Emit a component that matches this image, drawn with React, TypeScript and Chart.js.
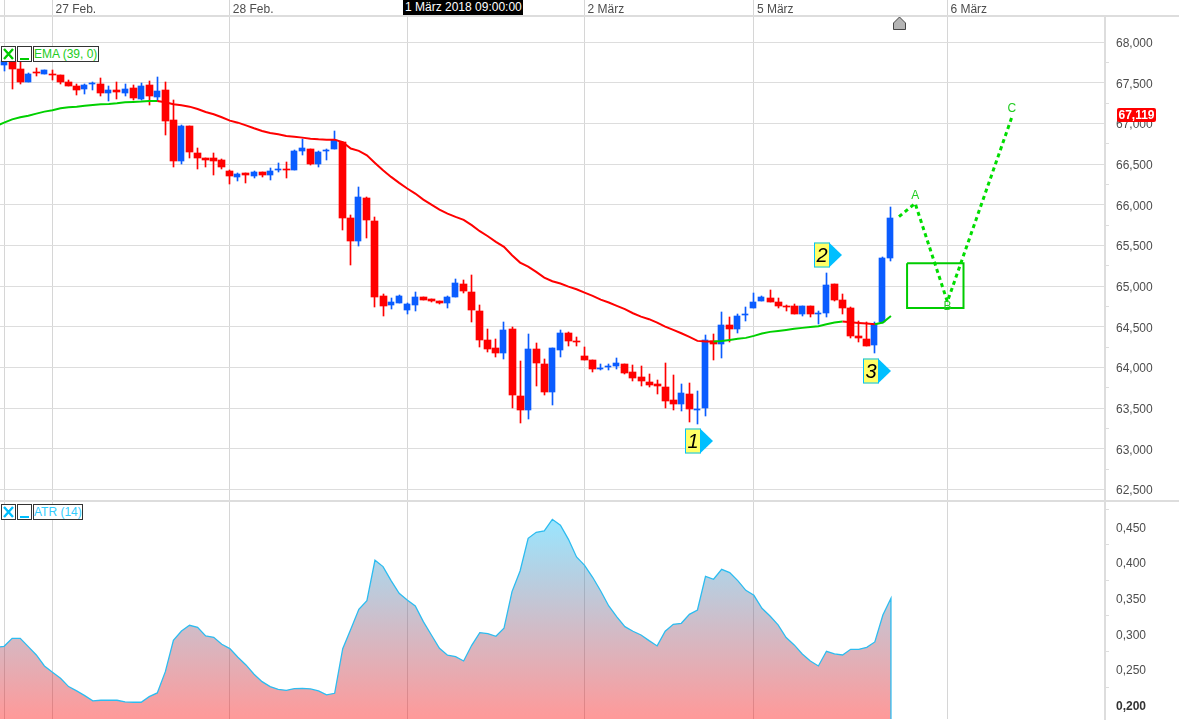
import React, { useEffect, useRef } from "react";
import { Chart, registerables } from "chart.js";

Chart.register(...registerables);

const FONT = '"Liberation Sans", Arial, sans-serif';

const opens = [67725,67766,67671,67511,67626,67610,67610,67598,67511,67462,67425,67491,67487,67376,67413,67376,67438,67302,67475,67327,67413,67044,66540,66970,66638,66577,66577,66552,66417,66343,66392,66355,66404,66368,66425,66441,66429,66663,66687,66503,66667,66687,66773,65839,65553,66082,65799,64876,64766,64790,64704,64766,64864,64839,64815,64790,64864,65024,64925,64692,64335,64237,64175,64470,63646,63474,64224,64040,63695,64216,64425,64327,64142,64093,63983,64007,64020,64044,63946,63884,63823,63798,63761,63601,63552,63675,63478,63503,64327,64290,64524,64475,64651,64733,64819,64856,64807,64762,64758,64659,64758,64663,64671,65028,64831,64733,64389,64352,64278,64555,65347];
const closes = [67766,67671,67511,67610,67618,67655,67602,67511,67462,67413,67475,67499,67376,67413,67393,67425,67315,67462,67339,67401,67032,66540,66970,66650,66577,66552,66540,66466,66355,66380,66368,66404,66368,66417,66441,66429,66663,66700,66503,66650,66675,66798,65839,65556,66094,65811,64864,64753,64802,64876,64778,64864,64827,64815,64790,64864,65036,64938,64704,64335,64224,64175,64458,63658,63474,64224,64052,63695,64237,64425,64327,64319,64093,63983,63995,64020,64056,63933,63872,63835,63786,63778,63589,63552,63687,63491,63491,64339,64290,64524,64475,64634,64663,64807,64868,64807,64758,64749,64659,64758,64659,64675,65016,64831,64733,64389,64364,64266,64536,65347,65839];
const highs = [67782,67782,67762,67622,67688,67655,67663,67598,67536,67487,67487,67511,67561,67462,67511,67487,67475,67499,67524,67573,67511,67290,66982,66970,66700,66577,66638,66564,66429,66392,66392,66417,66404,66454,66515,66527,66675,66810,66687,66663,66687,66909,66773,65875,66217,66094,65848,64901,64852,64889,64790,64925,64864,64839,64815,64876,65085,65073,65134,64766,64470,64347,64556,64495,64077,64409,64298,64101,64237,64462,64438,64376,64253,64093,64044,64044,64118,64044,64032,64020,63921,63847,64056,63909,63798,63810,63712,64401,64413,64684,64622,64659,64745,64917,64880,64954,64856,64770,64782,64758,64758,64696,65163,65028,64905,64745,64573,64561,64561,65359,65974];
const lows = [67647,67425,67491,67511,67585,67610,67536,67491,67462,67352,67364,67413,67339,67278,67302,67339,67290,67290,67228,67278,66860,66466,66503,66577,66441,66466,66368,66441,66257,66294,66269,66331,66343,66306,66404,66331,66429,66613,66491,66466,66552,66687,65691,65257,65491,65590,64741,64630,64716,64790,64655,64692,64827,64802,64778,64729,64864,64913,64556,64249,64187,64126,64101,63499,63314,63363,63769,63658,63536,64130,64266,64266,64093,63946,63970,63970,63983,63921,63835,63774,63761,63675,63503,63478,63466,63331,63306,63405,64093,64118,64315,64425,64573,64733,64819,64807,64733,64696,64659,64634,64622,64536,64622,64819,64659,64364,64315,64266,64179,64547,65310];

// first value sits one candle before the first visible candle
const emaValues = [66970,67011,67052,67077,67097,67122,67147,67163,67188,67200,67208,67220,67229,67237,67241,67249,67261,67265,67270,67278,67278,67261,67237,67224,67208,67179,67142,67114,67077,67036,67011,66978,66942,66909,66884,66868,66847,66839,66827,66814,66806,66802,66802,66770,66693,66664,66610,66516,66426,66344,66270,66201,66139,66065,66004,65942,65893,65852,65815,65750,65676,65614,65545,65483,65381,65290,65241,65176,65106,65061,65032,64995,64962,64921,64880,64835,64799,64758,64717,64667,64626,64594,64552,64503,64462,64421,64376,64327,64319,64319,64327,64339,64352,64364,64389,64417,64438,64450,64462,64475,64487,64499,64507,64532,64552,64565,64557,64548,64540,64532,64552,64634];
const emaGreenRanges = [[-1, 19], [88, 104], [108, 110]];

const atrValues = [0.281,0.2824,0.2936,0.2936,0.2819,0.2702,0.2548,0.2459,0.2375,0.2258,0.2197,0.2131,0.2057,0.2066,0.2066,0.2066,0.2043,0.2038,0.2038,0.2117,0.2169,0.2468,0.2908,0.3039,0.3119,0.3091,0.2969,0.295,0.2852,0.2791,0.267,0.2562,0.2431,0.2328,0.2258,0.222,0.2206,0.223,0.2234,0.2225,0.2197,0.2141,0.2164,0.2791,0.3063,0.3344,0.3465,0.4032,0.3943,0.3746,0.3568,0.3475,0.339,0.317,0.2983,0.2796,0.2698,0.2679,0.2618,0.2838,0.3016,0.3002,0.2965,0.3077,0.3592,0.3882,0.434,0.4425,0.4443,0.4607,0.4523,0.4326,0.4078,0.3961,0.3793,0.3601,0.339,0.3236,0.31,0.3035,0.2983,0.2904,0.2829,0.3035,0.3133,0.3147,0.3273,0.3334,0.3807,0.3765,0.3905,0.3858,0.3746,0.361,0.354,0.3358,0.325,0.3124,0.2946,0.2843,0.2716,0.2618,0.2548,0.2754,0.2716,0.2702,0.2782,0.2782,0.281,0.2885,0.3264,0.3498];

const waveX = [111, 113, 117, 125];
const waveY = [65855, 66019, 64809, 67080];
const waveLabels = ["", "A", "B", "C"];
const boxX = [112, 119, 119, 112, 112];
const boxY = [65281, 65281, 64732, 64732, 65281];

const dayTicks = [0, 6, 28, 50, 72, 93, 117];
const dayLabels = ["", "27 Feb.", "28 Feb.", "", "2 März", "5 März", "6 März"];

const priceTicks = [62500,62750,63000,63250,63500,63750,64000,64250,64500,64750,65000,65250,65500,65750,66000,66250,66500,66750,67000,67250,67500,67750,68000];
const priceLabels = ["62,500","","63,000","","63,500","","64,000","","64,500","","65,000","","65,500","","66,000","","66,500","","67,000","","67,500","","68,000"];
const atrTicks = [0.2,0.225,0.25,0.275,0.3,0.325,0.35,0.375,0.4,0.425,0.45,0.475];
const atrLabels = ["0,200","","0,250","","0,300","","0,350","","0,400","","0,450",""];

const lastPrice = 67119;
const lastPriceLabel = "67,119";
const signalIndex = [86, 102, 108];
const signalPrice = [63096, 65383, 63957];
const signalLabels = ["1", "2", "3"];

const RED = "#ff0000";
const BLUE = "#0a5cff";
const GREEN = "#00cc00";
const GRID = "#dddddd";
const VGRID = "#d6d6d6";
const TEXT = "#4d4d4d";
const CYAN = "#00bfff";

const xMin = -0.5086;
const xMax = 136.55;
const priceMin = 62370;
const priceMax = 68323;
const atrMin = 0.1803;
const atrMax = 0.4864;

const idx = opens.map((_, i) => i);
const isUp = (i: number) => closes[i] >= opens[i];

function fixAxis(width: number) {
  return (s: any) => {
    s.width = width;
    s.paddingTop = 0;
    s.paddingBottom = 0;
  };
}

function xScale(labels: boolean) {
  return {
    type: "linear",
    position: labels ? "top" : "bottom",
    min: xMin,
    max: xMax,
    offset: false,
    afterBuildTicks: (s: any) => {
      s.ticks = dayTicks.map((v) => ({ value: v }));
    },
    afterFit: (s: any) => {
      s.height = labels ? 16 : 0;
      s.paddingLeft = 0;
      s.paddingRight = 0;
    },
    border: { display: false },
    grid: { offset: false, color: VGRID, lineWidth: 1, drawTicks: labels, tickLength: 16, tickColor: VGRID },
    ticks: {
      display: labels,
      autoSkip: false,
      maxRotation: 0,
      align: "start",
      labelOffset: 3,
      padding: -16.5,
      color: TEXT,
      font: { family: FONT, size: 12 },
      callback: (_v: any, i: number) => dayLabels[i],
    },
  };
}

function yScale(min: number, max: number, tickValues: number[], tickLabels: string[], showGrid: boolean) {
  return {
    type: "linear",
    position: "right",
    min,
    max,
    afterBuildTicks: (s: any) => {
      s.ticks = tickValues.map((v) => ({ value: v }));
    },
    afterFit: fixAxis(74),
    border: { display: true, color: GRID, width: 2 },
    grid: {
      drawOnChartArea: showGrid,
      tickLength: 4,
      color: (c: any) => (c.tick && tickLabels[tickValues.indexOf(c.tick.value)] ? GRID : "rgba(0,0,0,0)"),
      tickColor: (c: any) => (c.tick && tickLabels[tickValues.indexOf(c.tick.value)] ? "rgba(0,0,0,0)" : GRID),
    },
    ticks: {
      autoSkip: false,
      padding: 7,
      labelOffset: 1.5,
      color: (c: any) => (c.tick && tickLabels[tickValues.indexOf(c.tick.value)] === "0,200" ? "#333333" : TEXT),
      font: (c: any) => ({
        family: FONT,
        size: 12,
        weight: c.tick && tickLabels[tickValues.indexOf(c.tick.value)] === "0,200" ? "bold" : "normal",
      }),
      callback: (v: any) => tickLabels[tickValues.indexOf(v)],
    },
  };
}

// keeps the candles sharp on the pixel grid, as in the original
const snapPlugin = {
  id: "snap",
  afterDatasetsUpdate(chart: any) {
    chart.data.datasets.forEach((d: any, di: number) => {
      if (!d.snap) return;
      chart.getDatasetMeta(di).data.forEach((el: any) => {
        const col = Math.floor(el.x) + 0.5;
        el.x = d.snap === "even" ? col - 0.5 : col;
        const top = Math.round(Math.min(el.y, el.base));
        let bottom = Math.round(Math.max(el.y, el.base));
        if (bottom <= top) bottom = top + 1;
        el.y = top;
        el.base = bottom;
        el.height = bottom - top;
      });
    });
  },
};

const overlayPlugin = {
  id: "overlay",
  afterDatasetsDraw(chart: any) {
    const { ctx, scales } = chart;
    const sx = scales.x;
    const sy = scales.y;
    ctx.save();
    ctx.font = `12px ${FONT}`;
    ctx.fillStyle = "#22cc22";
    ctx.textAlign = "center";
    ctx.textBaseline = "middle";
    const offsets = [0, -8, 5, -8];
    waveLabels.forEach((t, i) => {
      if (t) ctx.fillText(t, sx.getPixelForValue(waveX[i]), sy.getPixelForValue(waveY[i]) + offsets[i]);
    });

    signalIndex.forEach((si, i) => {
      const x = Math.round(sx.getPixelForValue(si)) - 12;
      const cy = Math.round(sy.getPixelForValue(signalPrice[i]));
      ctx.fillStyle = CYAN;
      ctx.beginPath();
      ctx.moveTo(x + 15, cy - 12.5);
      ctx.lineTo(x + 28, cy);
      ctx.lineTo(x + 15, cy + 12.5);
      ctx.closePath();
      ctx.fill();
      ctx.fillStyle = "#ffff66";
      ctx.strokeStyle = CYAN;
      ctx.lineWidth = 1;
      ctx.fillRect(x, cy - 12.5, 15, 25);
      ctx.strokeRect(x + 0.5, cy - 12, 15, 24);
      ctx.fillStyle = "#000000";
      ctx.font = `italic 20px ${FONT}`;
      ctx.fillText(signalLabels[i], x + 8, cy + 1);
    });

    // home marker
    ctx.beginPath();
    ctx.moveTo(899.5, 17);
    ctx.lineTo(905.5, 23);
    ctx.lineTo(905.5, 29.5);
    ctx.lineTo(893.5, 29.5);
    ctx.lineTo(893.5, 23);
    ctx.closePath();
    ctx.fillStyle = "#b4b4b4";
    ctx.fill();
    ctx.strokeStyle = "#444444";
    ctx.lineWidth = 1;
    ctx.stroke();

    // last price tag
    const tagY = sy.getPixelForValue(lastPrice) + 1;
    ctx.fillStyle = RED;
    ctx.beginPath();
    ctx.roundRect(sy.left + 12, tagY - 7, 39, 14, 2);
    ctx.fill();
    ctx.fillStyle = "#ffffff";
    ctx.font = `bold 12px ${FONT}`;
    ctx.textAlign = "center";
    ctx.fillText(lastPriceLabel, sy.left + 31.5, tagY + 0.5);
    ctx.restore();
  },
};

function inEmaGreen(i: number) {
  return emaGreenRanges.some(([a, b]) => i >= a && i < b);
}

function bars(filter: (i: number) => boolean, lo: number[] | null, hi: number[] | null, color: string, thick: number, order: number, snap: string) {
  return {
    type: "bar",
    order,
    snap,
    backgroundColor: color,
    borderWidth: 0,
    barThickness: thick,
    minBarLength: 1,
    grouped: false,
    data: idx.filter(filter).map((i) => ({
      x: i,
      y: lo && hi ? [lo[i], hi[i]] : [opens[i], closes[i]],
    })),
  };
}

function Legend({ top, color, textColor, label, width }: any) {
  const box: any = {
    position: "absolute",
    top,
    height: 16,
    boxSizing: "border-box",
    border: "1px solid #333",
    background: "#fff",
  };
  return (
    <>
      <div style={{ ...box, left: 1, width: 15 }}>
        <svg width="13" height="14" style={{ display: "block" }}>
          <path d="M2 2 L11 12 M11 2 L2 12" stroke={color} strokeWidth="2.4" />
        </svg>
      </div>
      <div style={{ ...box, left: 17, width: 15 }}>
        <div style={{ position: "absolute", left: 2, bottom: 1, width: 9, height: 2, background: color }} />
      </div>
      <div
        style={{
          ...box,
          left: 33,
          width,
          color: textColor,
          font: `12px ${FONT}`,
          lineHeight: "14px",
          paddingLeft: 0,
          whiteSpace: "nowrap",
        }}
      >
        {label}
      </div>
    </>
  );
}

export default function App() {
  const topRef = useRef<HTMLCanvasElement>(null);
  const botRef = useRef<HTMLCanvasElement>(null);

  useEffect(() => {
    document.body.style.margin = "0";
    const top = new Chart(topRef.current as any, {
      data: {
        datasets: [
          bars((i) => !isUp(i), lows, highs, RED, 1, 3, "odd"),
          bars((i) => isUp(i), lows, highs, BLUE, 1, 3, "odd"),
          bars((i) => !isUp(i), null, null, RED, 7, 2, "odd"),
          bars((i) => isUp(i), null, null, BLUE, 6, 2, "even"),
          {
            type: "line",
            order: 1,
            data: emaValues.map((v, i) => ({ x: i - 1, y: v })),
            borderWidth: 2,
            borderColor: RED,
            pointRadius: 0,
            tension: 0,
            segment: {
              borderColor: (c: any) => (inEmaGreen(c.p0.parsed.x) ? "#00d000" : RED),
            },
          },
          {
            type: "line",
            order: 0,
            data: waveX.map((x, i) => ({ x, y: waveY[i] })),
            borderColor: "#00dd00",
            borderWidth: 3,
            borderDash: [4, 3.5],
            pointRadius: 0,
            tension: 0,
          },
          {
            type: "line",
            order: 0,
            data: boxX.map((x, i) => ({ x, y: boxY[i] })),
            borderColor: GREEN,
            borderWidth: 2,
            pointRadius: 0,
            tension: 0,
          },
        ],
      } as any,
      options: {
        animation: false,
        responsive: false,
        devicePixelRatio: 1,
        events: [],
        layout: { padding: 0 },
        plugins: { legend: { display: false }, tooltip: { enabled: false } },
        scales: {
          x: xScale(true),
          y: yScale(priceMin, priceMax, priceTicks, priceLabels, true),
        },
      } as any,
      plugins: [snapPlugin, overlayPlugin],
    });

    const bot = new Chart(botRef.current as any, {
      data: {
        datasets: [
          {
            type: "line",
            data: [
              ...atrValues.map((v, i) => ({ x: i - 1, y: v })),
              { x: atrValues.length - 2, y: atrMin },
            ],
            borderColor: "#2cbcf0",
            borderWidth: 1.3,
            pointRadius: 0,
            tension: 0,
            fill: "start",
            backgroundColor: (c: any) => {
              const { ctx, chartArea, scales } = c.chart;
              if (!chartArea) return "rgba(255,0,0,0.4)";
              const g = ctx.createLinearGradient(0, scales.y.getPixelForValue(Math.max(...atrValues)), 0, chartArea.bottom);
              g.addColorStop(0, "rgba(0,191,255,0.4)");
              g.addColorStop(1, "rgba(255,0,0,0.4)");
              return g;
            },
          },
        ],
      } as any,
      options: {
        animation: false,
        responsive: false,
        devicePixelRatio: 1,
        events: [],
        layout: { padding: { bottom: 6 } },
        plugins: { legend: { display: false }, tooltip: { enabled: false } },
        scales: {
          x: xScale(false),
          y: yScale(atrMin, atrMax, atrTicks, atrLabels, false),
        },
      } as any,
    });

    return () => {
      top.destroy();
      bot.destroy();
    };
  }, []);

  const line: any = { position: "absolute", left: 0, width: 1179, height: 2, background: GRID };
  return (
    <div style={{ position: "absolute", left: 0, top: 0, width: 1179, height: 725, background: "#fff", overflow: "hidden" }}>
      <canvas ref={topRef} width={1179} height={500} style={{ position: "absolute", left: 0, top: 0, display: "block" }} />
      <canvas ref={botRef} width={1179} height={224} style={{ position: "absolute", left: 0, top: 501, display: "block" }} />
      <div style={{ ...line, top: 15 }} />
      <div style={{ ...line, top: 500 }} />
      <div
        style={{
          position: "absolute",
          left: 403,
          top: 0,
          width: 120,
          height: 15,
          background: "#000",
          color: "#fff",
          font: `12px ${FONT}`,
          lineHeight: "15px",
          paddingLeft: 2,
          boxSizing: "border-box",
          whiteSpace: "nowrap",
        }}
      >
        1 März 2018 09:00:00
      </div>
      <Legend top={46} color={GREEN} textColor="#22cc22" label="EMA (39, 0)" width={66} />
      <Legend top={504} color={CYAN} textColor="#33ccff" label="ATR (14)" width={50} />
    </div>
  );
}
